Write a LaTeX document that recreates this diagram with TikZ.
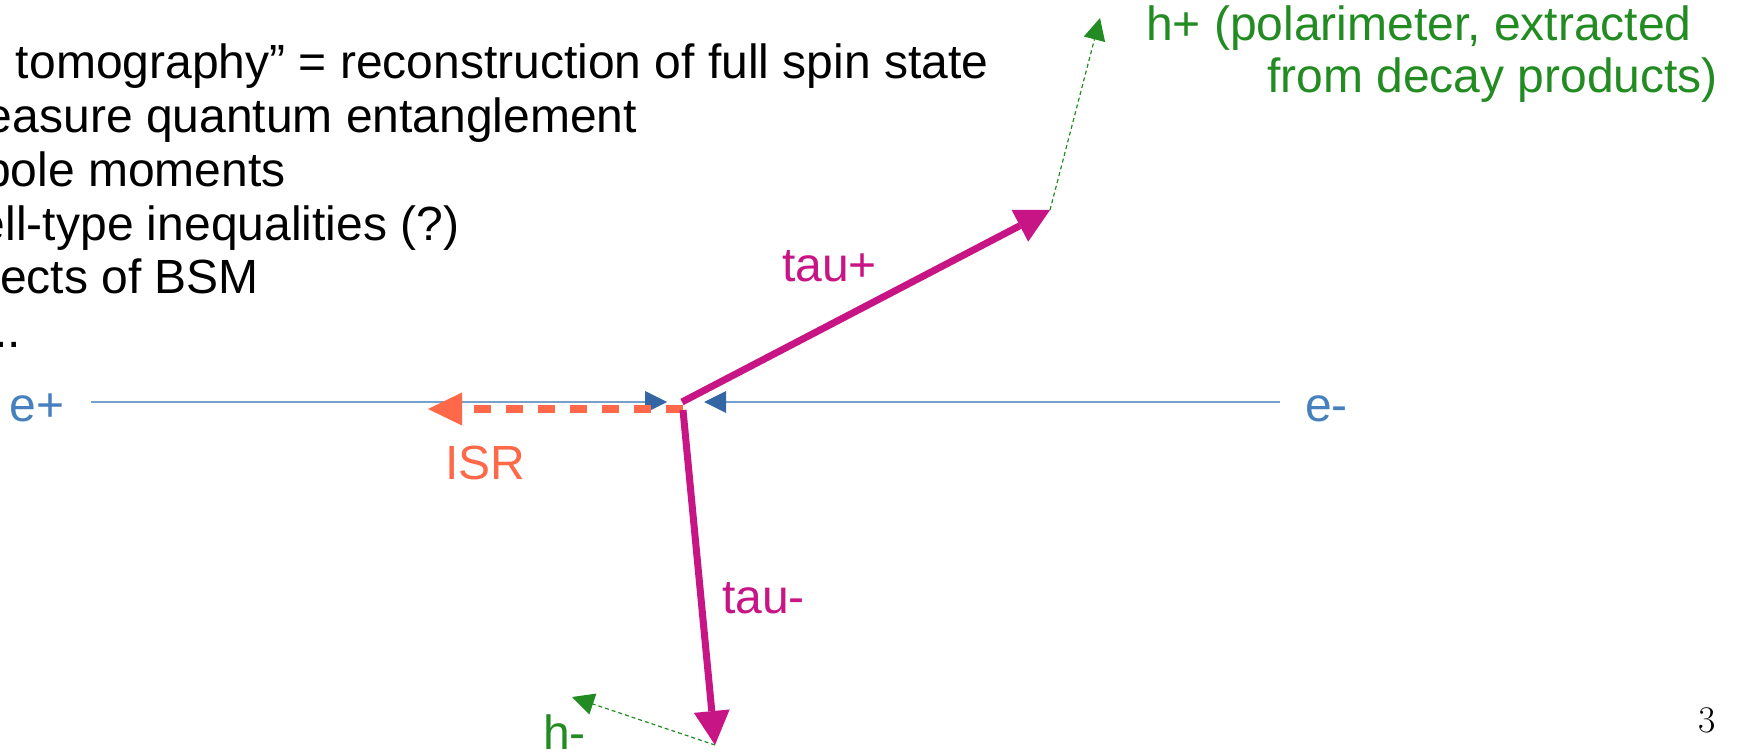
\documentclass[tikz,border=0pt]{standalone}
\usepackage{fontspec}
\newfontfamily\arialf{Liberation Sans}
\usetikzlibrary{arrows.meta}
\definecolor{beam}{RGB}{120,160,205}
\definecolor{beamtip}{RGB}{52,101,164}
\definecolor{etext}{RGB}{70,128,190}
\definecolor{isrcol}{RGB}{255,104,72}
\definecolor{taucol}{RGB}{199,21,133}
\definecolor{hcol}{RGB}{34,139,34}
\begin{document}
\begin{tikzpicture}[x=0.5pt,y=-0.5pt,
  lbl/.style={font=\arialf\fontsize{24}{28}\selectfont, inner sep=0pt, outer sep=0pt, anchor=base west},
  beamline/.style={draw=beam, line width=1pt, -{Triangle[length=11pt,width=11pt,line width=0pt,color=beamtip]}},
  isrline/.style={draw=isrcol, line width=3.5pt, dash pattern=on 8.5pt off 7.5pt, -{Triangle[length=17pt,width=16.5pt,line width=0pt]}},
  tauline/.style={draw=taucol, line width=3.5pt, -{Triangle[length=17pt,width=18pt,line width=0pt]}},
  hline/.style={draw=hcol, line width=0.6pt, dash pattern=on 2pt off 1.5pt, -{Triangle[length=11pt,width=11pt,line width=0pt]}}]
\path[use as bounding box] (0,0) rectangle (1739,753);
\clip (0,0) rectangle (1739,753);
% coordinates
\coordinate (B1) at (91,402);
\coordinate (B2) at (1280,402);
\coordinate (BT1) at (667,402);
\coordinate (BT2) at (704,402);
\coordinate (V1) at (682,402);
\coordinate (V2) at (683,410);
\coordinate (V3) at (683,409);
\coordinate (I) at (428,409);
\coordinate (A1) at (1050,210);
\coordinate (A2) at (715,745);
\coordinate (H1) at (1100,18);
\coordinate (H2) at (572,697);
% text block
\node[lbl, text=black] (t1) at (16,79) {tomography” = reconstruction of full spin state};
\node[lbl, text=black] (t2) at (-14,132.7) {easure quantum entanglement};
\node[lbl, text=black] (t3) at (-16,186.4) {pole moments};
\node[lbl, text=black] (t4) at (-21,240.1) {ell-type inequalities (?)};
\node[lbl, text=black] (t5) at (0,293.8) {ects of BSM};
\node[lbl, text=black] (t6) at (-19,347.5) {...};
% beams
\draw[beamline] (B1) -- (BT1);
\draw[beamline] (B2) -- (BT2);
\node[lbl, text=etext] (ep) at (10,422) {e+};
\node[lbl, text=etext] (em) at (1305,422) {e-};
% ISR
\draw[isrline] (V3) -- (I);
\node[lbl, text=isrcol] (isr) at (445,479) {ISR};
% taus
\draw[tauline] (V1) -- (A1);
\draw[tauline] (V2) -- (A2);
\node[lbl, text=taucol] (taup) at (782,282) {tau+};
\node[lbl, text=taucol] (taum) at (722,613) {tau-};
% polarimeters
\draw[hline] (A1) -- (H1);
\draw[hline] (A2) -- (H2);
\node[lbl, text=hcol] (hp1) at (1146,41) {h+ (polarimeter, extracted};
\node[lbl, text=hcol] (hp2) at (1267,93) {from decay products)};
\node[lbl, text=hcol] (hm) at (543,749) {h-};
% page number
\node[inner sep=0pt, anchor=base west, font=\fontsize{18.8}{22}\selectfont] (pg) at (1698,732) {3};
\end{tikzpicture}
\end{document}
